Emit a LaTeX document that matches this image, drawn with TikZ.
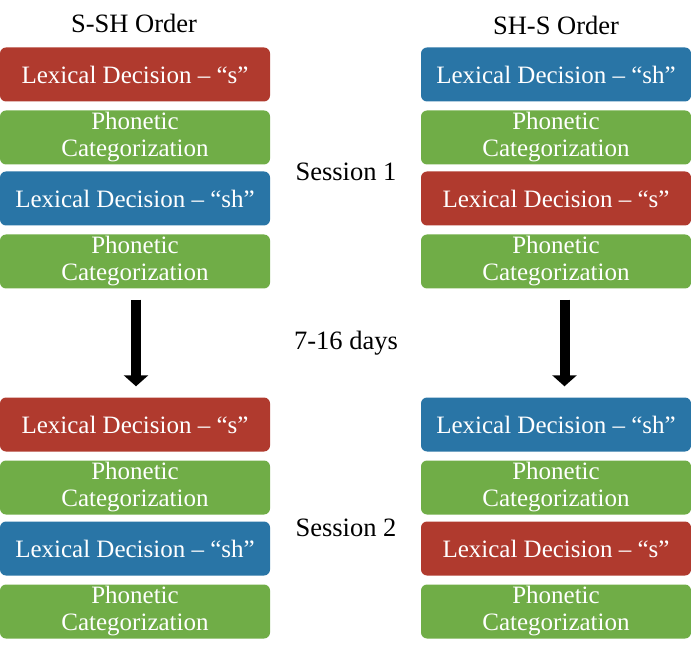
\documentclass[tikz,border=0pt]{standalone}
\usepackage{fontspec}
\setmainfont{Liberation Serif}
\usetikzlibrary{arrows.meta}
\definecolor{sred}{RGB}{176,58,46}
\definecolor{shblue}{RGB}{41,117,166}
\definecolor{pgreen}{RGB}{112,173,71}
\begin{document}
\begin{tikzpicture}[x=1pt,y=-1pt,
    task/.style={rectangle, rounded corners=6pt, minimum width=270pt, minimum height=54pt,
        inner sep=0pt, text=white, align=center, font=\fontsize{25}{27}\selectfont},
    ssound/.style={task, fill=sred},
    shsound/.style={task, fill=shblue},
    categ/.style={task, fill=pgreen},
    lbl/.style={font=\fontsize{26.5}{28}\selectfont},
    gap/.style={line width=10pt, -{Triangle[width=24pt,length=11pt]}, shorten <=11pt, shorten >=11pt}]
\useasboundingbox (0,0) rectangle (691,652);

\node[lbl] (lt) at (134,23) {S-SH Order};
\node[lbl] (rt) at (556,25) {SH-S Order};

\node[ssound]  (l1) at (135,74.5) {Lexical Decision -- ``s''};
\node[categ]   (l2) at (135,137.5) {Phonetic\\Categorization};
\node[shsound] (l3) at (135,198.5) {Lexical Decision -- ``sh''};
\node[categ]   (l4) at (135,261.5) {Phonetic\\Categorization};
\node[ssound]  (l5) at (135,424.5) {Lexical Decision -- ``s''};
\node[categ]   (l6) at (135,487.5) {Phonetic\\Categorization};
\node[shsound] (l7) at (135,548.5) {Lexical Decision -- ``sh''};
\node[categ]   (l8) at (135,611.5) {Phonetic\\Categorization};

\node[shsound] (r1) at (556,74.5) {Lexical Decision -- ``sh''};
\node[categ]   (r2) at (556,137.5) {Phonetic\\Categorization};
\node[ssound]  (r3) at (556,198.5) {Lexical Decision -- ``s''};
\node[categ]   (r4) at (556,261.5) {Phonetic\\Categorization};
\node[shsound] (r5) at (556,424.5) {Lexical Decision -- ``sh''};
\node[categ]   (r6) at (556,487.5) {Phonetic\\Categorization};
\node[ssound]  (r7) at (556,548.5) {Lexical Decision -- ``s''};
\node[categ]   (r8) at (556,611.5) {Phonetic\\Categorization};

\node[lbl] (s1) at (346,172) {Session 1};
\node[lbl] (dd) at (346,343) {7-16 days};
\node[lbl] (s2) at (346,528) {Session 2};

\coordinate (la) at ([xshift=1pt]l4.south);  \coordinate (lb) at ([xshift=1pt]l5.north);
\coordinate (ra) at ([xshift=8.5pt]r4.south);  \coordinate (rb) at ([xshift=8.5pt]r5.north);
\draw[gap] (la)--(lb);
\draw[gap] (ra)--(rb);

\end{tikzpicture}
\end{document}
